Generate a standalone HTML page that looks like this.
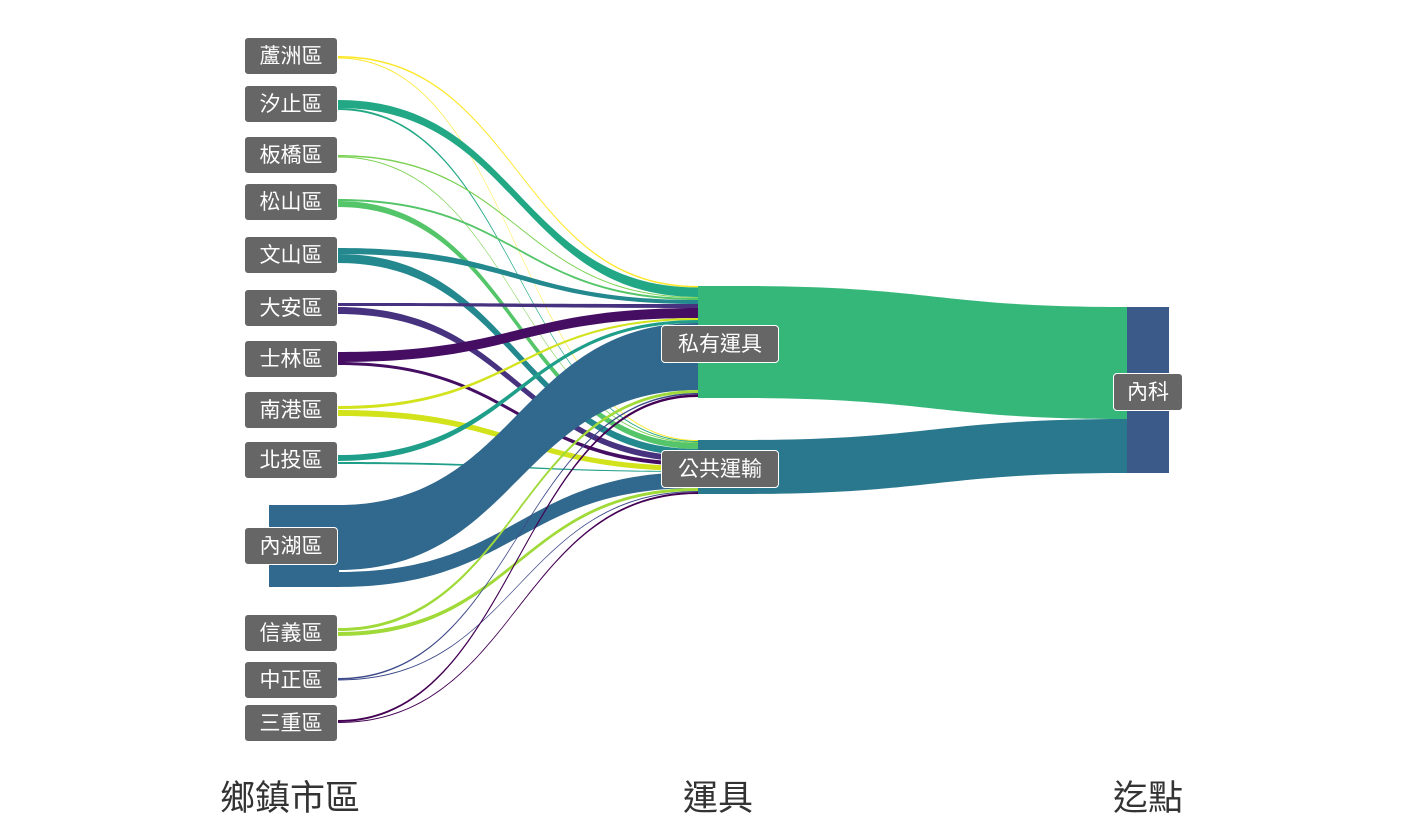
<!DOCTYPE html>
<html><head><meta charset="utf-8"><style>
body{margin:0;background:#fff;width:1428px;height:838px;overflow:hidden;position:relative;font-family:"Liberation Sans","Noto Sans CJK TC",sans-serif}
.lb{position:absolute;background:#666;color:#fff;border-radius:4px;font-size:21px;height:38px;line-height:38px;text-align:center;border:1px solid #fff;box-sizing:border-box}
.ax{position:absolute;font-size:35px;color:#333;transform:translateX(-50%);top:770px}
svg{position:absolute;left:0;top:0}
</style></head><body>
<svg id="s" width="1428" height="838"></svg>
<script>
var s=document.getElementById('s'),h='';
function band(x0,a,b,x1,c,d,col){var m=(x0+x1)/2;h+='<path fill="'+col+'" d="M'+x0+' '+a+'C'+m+' '+a+','+m+' '+c+','+x1+' '+c+'L'+x1+' '+d+'C'+m+' '+d+','+m+' '+b+','+x0+' '+b+'Z"/>';}
var F=[
['#fde725',56,57.5,286,287.5,57.5,58.5,440,441],
['#22a884',100,108,287.5,297,108,110,441,442],
['#7ad151',155,156.5,297,298,156.5,157.5,442,443],
['#54c568',199,201,298,300,201,207,443,449],
['#23898e',248,254,300,304,254,263,449,456],
['#46327e',303,306,304,308,307,314,456,462],
['#450e63',352,362,308,318,362,365,462,466],
['#d2e21b',406,409,318,320,410,416,466,471],
['#1f9e89',455,461,320,323,462,464,471,472],
['#31688e',505,570,323,390,572,587,472,488],
['#a0da39',628,631,390,393,632,636,488,491],
['#3e4a89',678,679.5,393,394.5,679.5,680.5,491,492],
['#440154',720,722,394.5,397,722,723,492,494]];
F.forEach(function(f){band(338,f[1],f[2],698,f[3],f[4],f[0]);band(338,f[5],f[6],698,f[7],f[8],f[0]);});
h+='<rect x="269" y="505" width="70" height="82" fill="#31688e"/>';
h+='<rect x="698" y="286" width="42" height="112" fill="#35b779"/>';
h+='<rect x="698" y="440" width="42" height="54" fill="#2a788e"/>';
band(740,286,398,1127,307,419,'#35b779');
band(740,440,494,1127,419,473,'#2a788e');
h+='<rect x="1127" y="307" width="42" height="166" fill="#3b5a8a"/>';
s.innerHTML=h;
</script>
<div class="lb" style="left:244px;top:37px;width:94px">蘆洲區</div>
<div class="lb" style="left:244px;top:85px;width:94px">汐止區</div>
<div class="lb" style="left:244px;top:136px;width:94px">板橋區</div>
<div class="lb" style="left:244px;top:183px;width:94px">松山區</div>
<div class="lb" style="left:244px;top:236px;width:94px">文山區</div>
<div class="lb" style="left:244px;top:289px;width:94px">大安區</div>
<div class="lb" style="left:244px;top:340px;width:94px">士林區</div>
<div class="lb" style="left:244px;top:391px;width:94px">南港區</div>
<div class="lb" style="left:244px;top:441px;width:94px">北投區</div>
<div class="lb" style="left:244px;top:527px;width:94px">內湖區</div>
<div class="lb" style="left:244px;top:614px;width:94px">信義區</div>
<div class="lb" style="left:244px;top:661px;width:94px">中正區</div>
<div class="lb" style="left:244px;top:704px;width:94px">三重區</div>
<div class="lb" style="left:661px;top:325px;width:118px">私有運具</div>
<div class="lb" style="left:661px;top:450px;width:118px">公共運輸</div>
<div class="lb" style="left:1113px;top:373px;width:70px">內科</div>
<div class="ax" style="left:290px">鄉鎮市區</div>
<div class="ax" style="left:718px">運具</div>
<div class="ax" style="left:1148px">迄點</div>
</body></html>
